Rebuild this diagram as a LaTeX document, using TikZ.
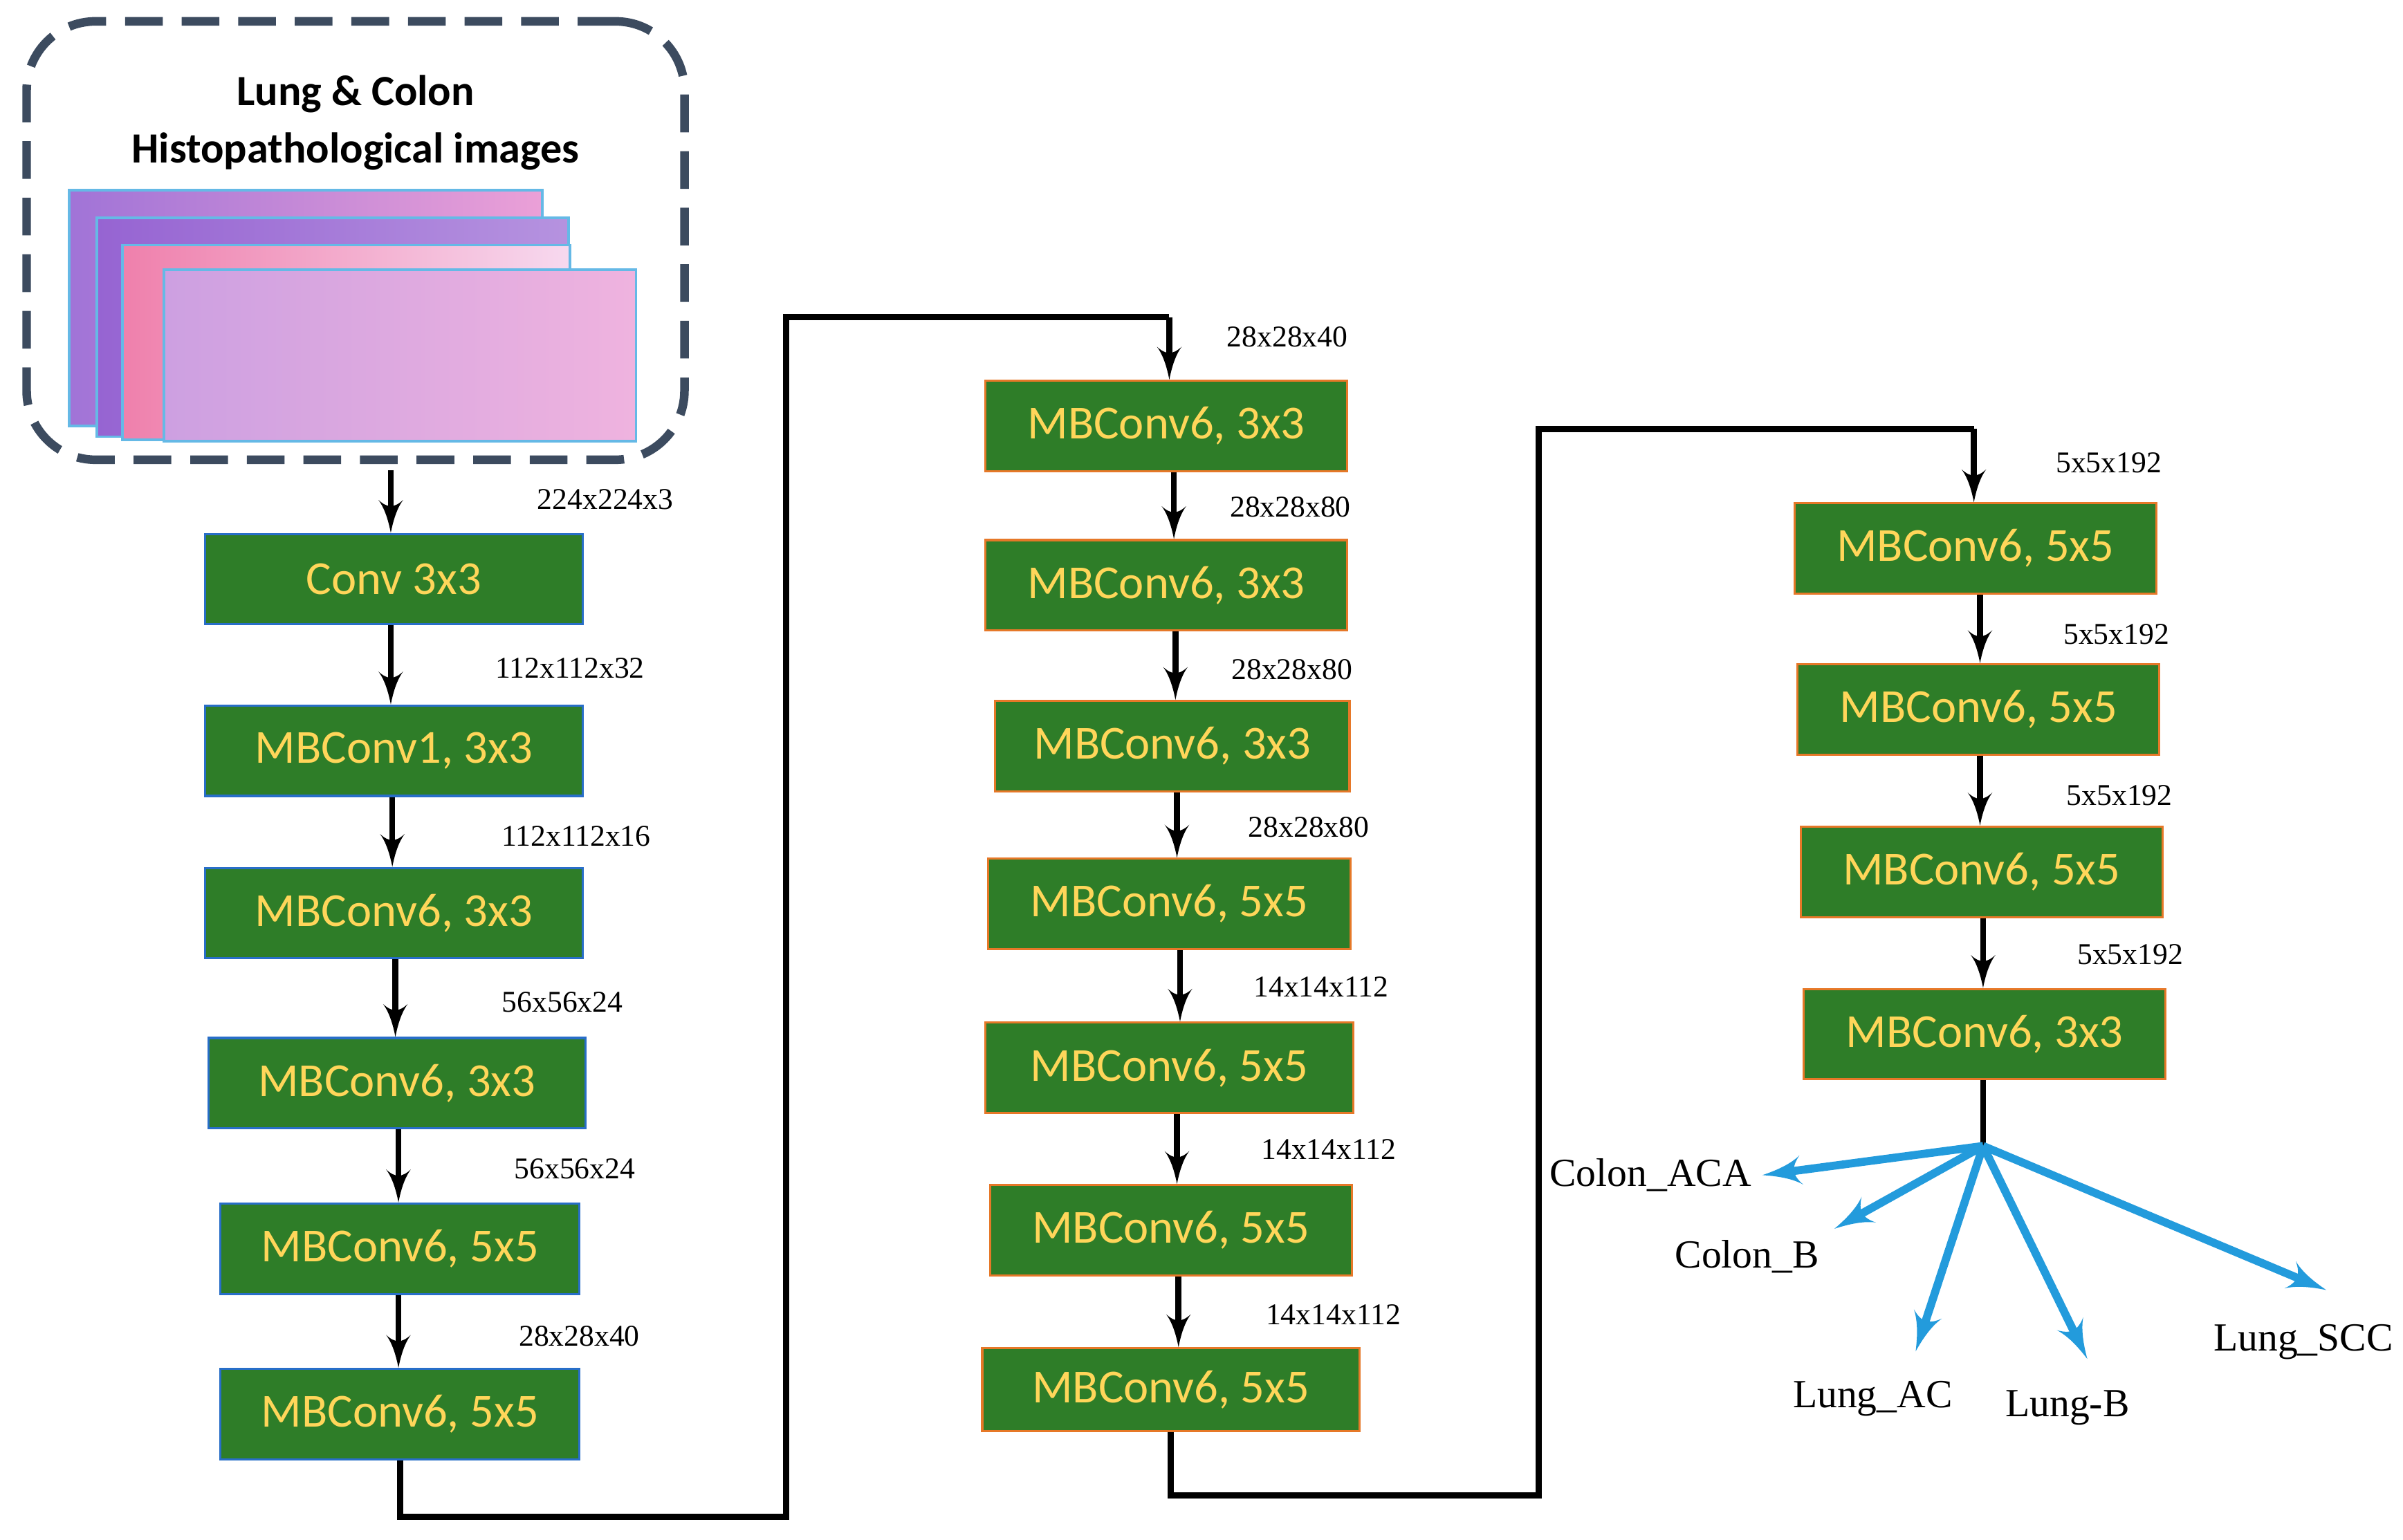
\documentclass[tikz,border=0pt]{standalone}
\usepackage{fontspec}
\setmainfont{Liberation Serif}
\newfontfamily\calfont{Carlito}
\usetikzlibrary{arrows,positioning,calc}
\definecolor{blockgreen}{RGB}{46,125,40}
\definecolor{blocktext}{RGB}{255,214,90}
\definecolor{edgeblue}{RGB}{40,110,200}
\definecolor{edgeorange}{RGB}{230,120,40}
\definecolor{dashgray}{RGB}{60,75,95}
\definecolor{outblue}{RGB}{35,155,220}
\definecolor{histpink}{RGB}{235,160,215}
\definecolor{histpurple}{RGB}{150,100,210}
\definecolor{histlilac}{RGB}{205,160,225}
\tikzset{
    block/.style={rectangle, draw=edgeblue, fill=blockgreen, text=blocktext, minimum width=2.46cm, minimum height=0.59cm, inner sep=0pt, font=\calfont\fontsize{8.8}{9}\selectfont},
    oblock/.style={block, draw=edgeorange, minimum width=2.36cm},
    dim/.style={font=\fontsize{5.6}{6}\selectfont},
    outlabel/.style={font=\fontsize{7.4}{8}\selectfont},
    flow/.style={draw, line width=1.1pt, -latex'},
    path/.style={draw, line width=1.1pt},
    fan/.style={draw=outblue, line width=1.5pt, -latex'},
    slide/.style={draw=outblue!70, line width=0.5pt}
}
\begin{document}
\begin{tikzpicture}[x=0.01cm, y=-0.01cm]
    \useasboundingbox (0,0) rectangle (1568,1005);

    % Input images
    \node [draw=dashgray, dashed, dash pattern=on 7pt off 3.5pt, line width=1.6pt, rounded corners=0.45cm, minimum width=4.29cm, minimum height=2.86cm] (input) at (232,157) {};
    \node [font=\calfont\bfseries\fontsize{8}{10.6}\selectfont, align=center] (title) at (232,80) {Lung \& Colon\\Histopathological images};
    \filldraw [slide, left color=histpurple!90, right color=histpink] (45,124) rectangle (354,278);
    \filldraw [slide, left color=histpurple, right color=histpurple!70] (63,142) rectangle (371,285);
    \filldraw [slide, left color=histpink!80!red, right color=histpink!40] (80,160) rectangle (372,287);
    \filldraw [slide, left color=histlilac, right color=histpink!80] (107,176) rectangle (415,288);

    % Column 1
    \node [block] (l1) at (257,378) {Conv 3x3};
    \node [block] (l2) at (257,490) {MBConv1, 3x3};
    \node [block] (l3) at (257,596) {MBConv6, 3x3};
    \node [block] (l4) at (259,707) {MBConv6, 3x3};
    \node [block, minimum width=2.34cm] (l5) at (261,815) {MBConv6, 5x5};
    \node [block, minimum width=2.34cm] (l6) at (261,923) {MBConv6, 5x5};

    % Column 2
    \node [oblock] (m1) at (761,278) {MBConv6, 3x3};
    \node [oblock] (m2) at (761,382) {MBConv6, 3x3};
    \node [oblock, minimum width=2.31cm] (m3) at (765,487) {MBConv6, 3x3};
    \node [oblock] (m4) at (763,590) {MBConv6, 5x5};
    \node [oblock, minimum width=2.40cm] (m5) at (763,697) {MBConv6, 5x5};
    \node [oblock] (m6) at (764,803) {MBConv6, 5x5};
    \node [oblock, minimum width=2.46cm, minimum height=0.54cm] (m7) at (764,907) {MBConv6, 5x5};

    % Column 3
    \node [oblock] (r1) at (1289,358) {MBConv6, 5x5};
    \node [oblock] (r2) at (1291,463) {MBConv6, 5x5};
    \node [oblock] (r3) at (1293,569) {MBConv6, 5x5};
    \node [oblock] (r4) at (1295,675) {MBConv6, 3x3};

    % Connections
    \path [flow] (input.south -| 255,0) ++(0,4) coordinate (s0) -- (l1.north -| s0);
    \path [flow] (l1.south -| 255,0) -- (l2.north -| 255,0);
    \path [flow] (l2.south -| 256,0) -- (l3.north -| 256,0);
    \path [flow] (l3.south -| 258,0) -- (l4.north -| 258,0);
    \path [flow] (l4.south -| 260,0) -- (l5.north -| 260,0);
    \path [flow] (l5.south -| 260,0) -- (l6.north -| 260,0);
    \coordinate (j1) at (513,990);
    \coordinate (j2) at (763,207);
    \path [path] (l6.south) |- (j1) |- (j2);
    \path [flow] (j2) -- (m1.north -| j2);
    \path [flow] (m1.south -| 766,0) -- (m2.north -| 766,0);
    \path [flow] (m2.south -| 767,0) -- (m3.north -| 767,0);
    \path [flow] (m3.south -| 768,0) -- (m4.north -| 768,0);
    \path [flow] (m4.south -| 770,0) -- (m5.north -| 770,0);
    \path [flow] (m5.south -| 768,0) -- (m6.north -| 768,0);
    \path [flow] (m6.south -| 769,0) -- (m7.north -| 769,0);
    \coordinate (j3) at (1004,976);
    \coordinate (j4) at (1288,280);
    \path [path] (m7.south) |- (j3) |- (j4);
    \path [flow] (j4) -- (r1.north -| j4);
    \path [flow] (r1.south -| 1292,0) -- (r2.north -| 1292,0);
    \path [flow] (r2.south -| 1292,0) -- (r3.north -| 1292,0);
    \path [flow] (r3.south -| 1294,0) -- (r4.north -| 1294,0);
    \coordinate (hub) at (1294,748);
    \path [path] (r4.south -| hub) -- (hub);

    % Dimension labels
    \node [dim] (d0) at (395,326) {224x224x3};
    \node [dim] (d1) at (372,436) {112x112x32};
    \node [dim] (d2) at (376,546) {112x112x16};
    \node [dim] (d3) at (367,654) {56x56x24};
    \node [dim] (d4) at (375,763) {56x56x24};
    \node [dim] (d5) at (378,872) {28x28x40};
    \node [dim] (d6) at (840,220) {28x28x40};
    \node [dim] (d7) at (842,331) {28x28x80};
    \node [dim] (d8) at (843,437) {28x28x80};
    \node [dim] (d9) at (854,540) {28x28x80};
    \node [dim] (d10) at (862,644) {14x14x112};
    \node [dim] (d11) at (867,750) {14x14x112};
    \node [dim] (d12) at (870,858) {14x14x112};
    \node [dim] (d13) at (1376,302) {5x5x192};
    \node [dim] (d14) at (1381,414) {5x5x192};
    \node [dim] (d15) at (1383,519) {5x5x192};
    \node [dim] (d16) at (1390,623) {5x5x192};

    % Output classes
    \node [outlabel] (colonaca) at (1077,767) {Colon\_ACA};
    \node [outlabel] (colonb) at (1140,820) {Colon\_B};
    \node [outlabel] (lungac) at (1222,913) {Lung\_AC};
    \node [outlabel] (lungb) at (1349,919) {Lung-B};
    \node [outlabel] (lungscc) at (1503,876) {Lung\_SCC};
    \coordinate (t1) at (1150,767);
    \coordinate (t2) at (1197,802);
    \coordinate (t3) at (1250,882);
    \coordinate (t4) at (1362,887);
    \coordinate (t5) at (1518,842);
    \foreach \t in {t1,t2,t3,t4,t5}
        \path [fan] (hub) -- (\t);
\end{tikzpicture}
\end{document}
